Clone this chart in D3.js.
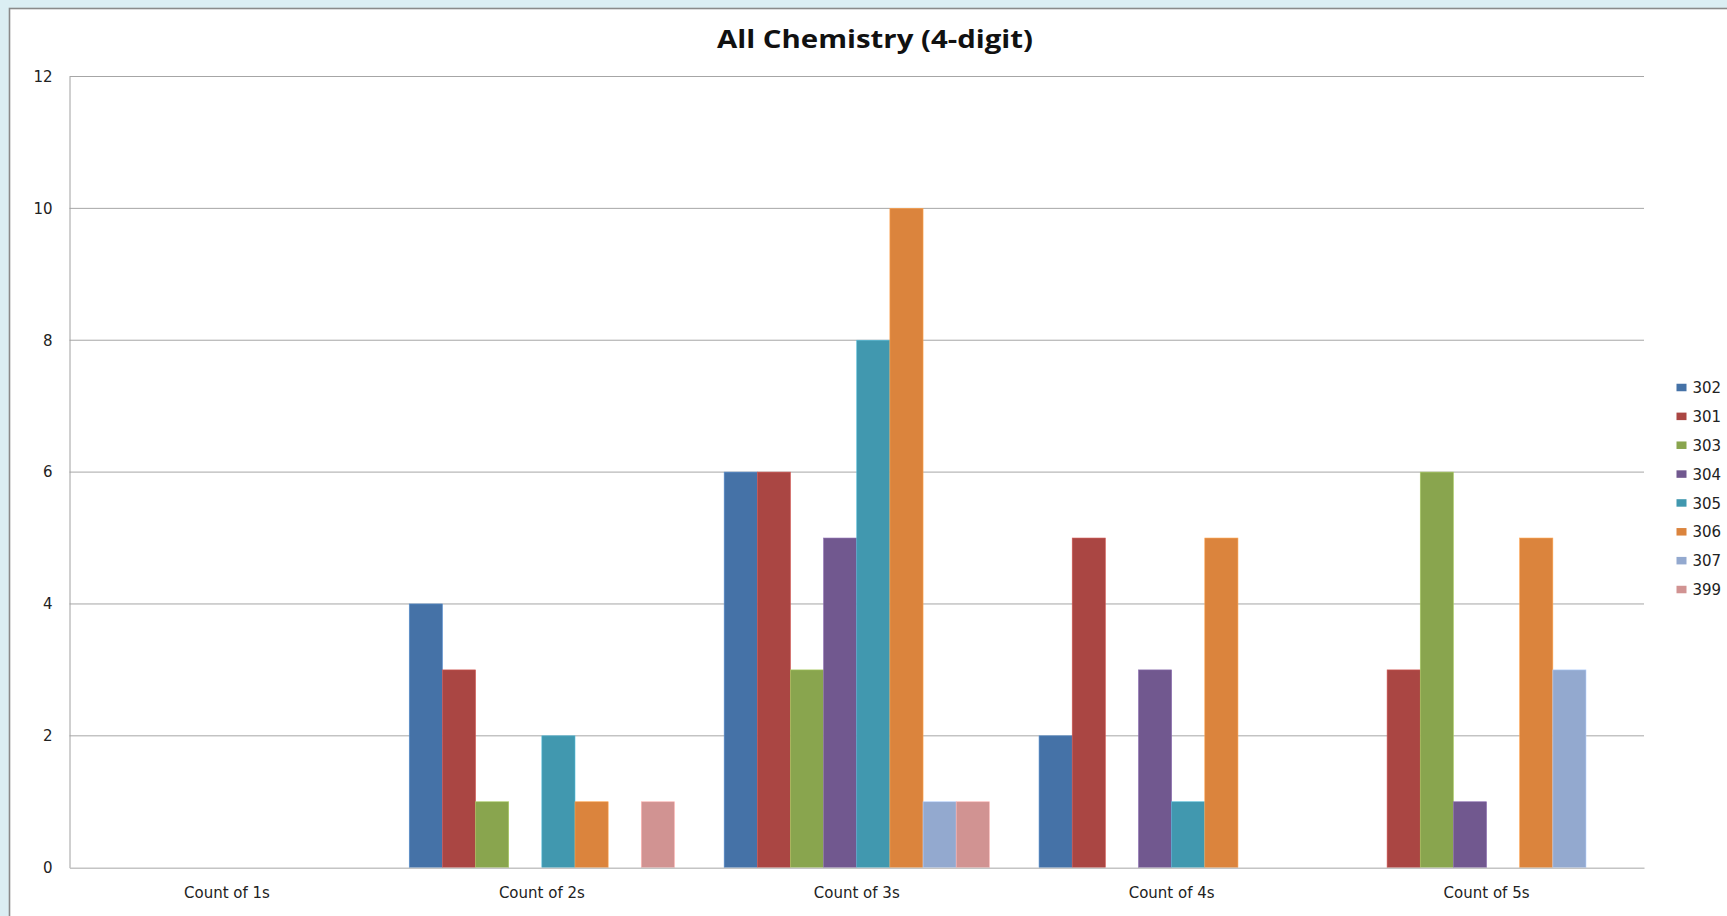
<!DOCTYPE html>
<html>
<head>
<meta charset="utf-8">
<script src="https://cdn.jsdelivr.net/npm/d3@7"></script>
<style>
  html, body { margin: 0; padding: 0; background: #dbeef3; }
  svg { display: block; }
</style>
</head>
<body>
<svg id="chart" width="1727" height="916"></svg>
<script>
// Category groups along the x axis
const categories = ["Count of 1s", "Count of 2s", "Count of 3s", "Count of 4s", "Count of 5s"];
// Series (course codes), in legend order
const seriesNames = ["302", "301", "303", "304", "305", "306", "307", "399"];
const seriesColors = ["#4572a7", "#aa4643", "#89a54e", "#71588f", "#4198af", "#db843d", "#93a9cf", "#d19392"];
// Values per series, one entry per category
const s302 = [0, 4, 6, 2, 0];
const s301 = [0, 3, 6, 5, 3];
const s303 = [0, 1, 3, 0, 6];
const s304 = [0, 0, 5, 3, 1];
const s305 = [0, 2, 8, 1, 0];
const s306 = [0, 1, 10, 5, 5];
const s307 = [0, 0, 1, 0, 3];
const s399 = [0, 1, 1, 0, 0];
const yTicks = [0, 2, 4, 6, 8, 10, 12];
const title = "All Chemistry (4-digit)";

const seriesValues = [s302, s301, s303, s304, s305, s306, s307, s399];
const rows = [];
categories.forEach((c, ci) => {
  seriesNames.forEach((s, si) => rows.push({ cat: c, series: s, value: seriesValues[si][ci], color: seriesColors[si] }));
});

const svg = d3.select("#chart");
const font = "'DejaVu Sans', 'Liberation Sans', sans-serif";
const titleFont = "'Open Sans', 'Liberation Sans', sans-serif";

// white chart panel with grey frame
svg.append("rect")
  .attr("x", 9.5).attr("y", 8.5)
  .attr("width", 1740).attr("height", 930)
  .attr("fill", "#ffffff")
  .attr("stroke", "#8a8a8a").attr("stroke-width", 1.6);

const plot = { left: 69.5, top: 76.5, right: 1644, bottom: 867.7 };

// each category: 8 touching bars with a 150% gap split on both sides
const x0 = d3.scaleBand().domain(categories).range([plot.left, plot.right]).padding(0);
const x1 = d3.scaleBand().domain(seriesNames).range([0, x0.bandwidth()])
  .paddingInner(0).paddingOuter(0.75);
const y = d3.scaleLinear().domain([0, 12]).range([plot.bottom, plot.top]);

// horizontal gridlines
svg.append("g").selectAll("line").data(yTicks.filter(t => t > 0)).join("line")
  .attr("x1", plot.left).attr("x2", plot.right)
  .attr("y1", d => y(d)).attr("y2", d => y(d))
  .attr("stroke", "#a6a6a6").attr("stroke-width", 1);

// y axis labels
const yAxis = d3.axisLeft(y).tickValues(yTicks).tickSize(0).tickPadding(17);
const gy = svg.append("g").attr("transform", `translate(${plot.left},0)`).call(yAxis);
gy.select(".domain").attr("stroke", "#a0a0a0").attr("stroke-width", 1);
gy.selectAll("text").attr("font-family", font).attr("font-size", 15).attr("fill", "#222");

// bars
svg.append("g").selectAll("rect").data(rows.filter(d => d.value > 0)).join("rect")
  .attr("x", d => x0(d.cat) + x1(d.series))
  .attr("y", d => y(d.value))
  .attr("width", x1.bandwidth())
  .attr("height", d => y(0) - y(d.value))
  .attr("fill", d => d.color)
  .attr("stroke", d => d3.color(d.color).brighter(0.6))
  .attr("stroke-width", 0.6);

// x axis
const xAxis = d3.axisBottom(x0).tickSize(0).tickPadding(20);
const gx = svg.append("g").attr("transform", `translate(0,${plot.bottom})`).call(xAxis);
gx.select(".domain").attr("stroke", "#c4c4c4").attr("stroke-width", 1.5);
gx.selectAll("text").attr("font-family", font).attr("font-size", 15).attr("fill", "#222");

// title, set slightly wide
svg.append("text")
  .attr("x", 875).attr("y", 47.5)
  .attr("text-anchor", "middle")
  .attr("font-family", titleFont).attr("font-weight", "bold").attr("font-size", 25)
  .attr("textLength", 316).attr("lengthAdjust", "spacingAndGlyphs")
  .attr("fill", "#111")
  .text(title);

// legend
const legend = svg.append("g").selectAll("g").data(seriesNames).join("g")
  .attr("transform", (d, i) => `translate(1676.5,${387.5 + i * 28.86})`);
legend.append("rect")
  .attr("x", 0).attr("y", -3.75).attr("width", 10).attr("height", 7.5)
  .attr("fill", (d, i) => seriesColors[i]);
legend.append("text")
  .attr("x", 16).attr("y", 0).attr("dy", "0.37em")
  .attr("font-family", font).attr("font-size", 15).attr("fill", "#222")
  .text(d => d);
</script>
</body>
</html>
